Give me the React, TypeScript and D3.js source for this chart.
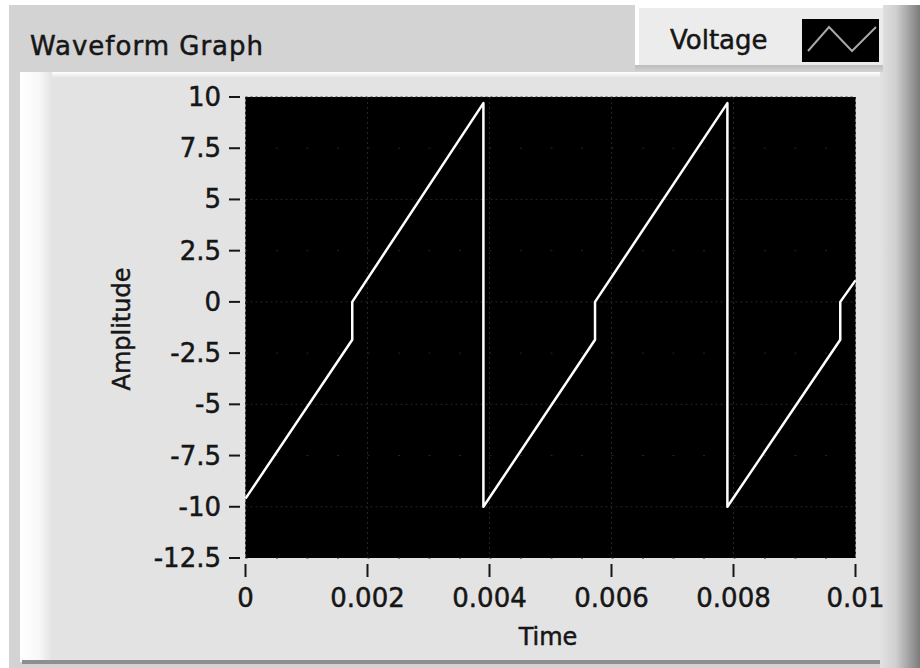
import React from 'react';
import * as d3 from 'd3';

// waveform samples (s, V)
const times = [0, 0.00175, 0.00175, 0.0039, 0.0039, 0.00573, 0.00573, 0.0079, 0.0079, 0.00975, 0.00975, 0.01];
const voltage = [-9.6, -1.85, 0, 9.7, -10, -1.85, 0, 9.7, -10, -1.85, 0, 1.05];

const yTicks = [10, 7.5, 5, 2.5, 0, -2.5, -5, -7.5, -10, -12.5];
const xTicks = [0, 0.002, 0.004, 0.006, 0.008, 0.01];
const xTickLabels = ['0', '0.002', '0.004', '0.006', '0.008', '0.01'];

const W = 920;
const H = 668;
const plot = { left: 245.5, right: 855.5, top: 97, bottom: 558 };
const font = '"DejaVu Sans", Verdana, sans-serif';
const ink = '#161616';

const App = () => {
	const x = d3.scaleLinear().domain([0, 0.01]).range([plot.left, plot.right]);
	const y = d3.scaleLinear().domain([-12.5, 10]).range([plot.bottom, plot.top]);

	const pts = times.map((t, i) => [t, voltage[i]] as [number, number]);
	const line = d3
		.line<[number, number]>()
		.x(d => x(d[0]))
		.y(d => y(d[1]));

	// slight stroke to mimic the heavy bitmap font of the original
	const txt = { fontFamily: font, fontSize: 26, fill: ink, stroke: ink, strokeWidth: 0.5 };

	return (
		<div style={{ position: 'absolute', left: 0, top: 0 }}>
			<svg width={W} height={H} style={{ display: 'block' }}>
				<defs>
					<linearGradient id="leftBand" x1="0" x2="1" y1="0" y2="0">
						<stop offset="0" stopColor="#ffffff" />
						<stop offset="0.6" stopColor="#f8f8f8" />
						<stop offset="1" stopColor="#e3e3e3" />
					</linearGradient>
					<linearGradient id="rightShade" x1="0" x2="1" y1="0" y2="0">
						<stop offset="0" stopColor="#e2e2e2" />
						<stop offset="0.4" stopColor="#cfcfcf" />
						<stop offset="1" stopColor="#7c7c7c" />
					</linearGradient>
					<linearGradient id="topBand" x1="0" x2="0" y1="0" y2="1">
						<stop offset="0" stopColor="#ffffff" />
						<stop offset="1" stopColor="#e3e3e3" />
					</linearGradient>
					<linearGradient id="legendShadow" x1="0" x2="0" y1="0" y2="1">
						<stop offset="0" stopColor="#b8b8b8" />
						<stop offset="1" stopColor="#d3d3d3" />
					</linearGradient>
				</defs>

				{/* frame */}
				<rect x={0} y={0} width={W} height={H} fill="#ffffff" />
				<rect x={9} y={5} width={W - 9} height={H - 5} fill="#d3d3d3" />
				<rect x={20} y={72} width={870} height={590} fill="#e3e3e3" />
				<rect x={20} y={72} width={870} height={6} fill="url(#topBand)" />
				<rect x={20} y={72} width={32} height={590} fill="url(#leftBand)" />
				<rect x={22} y={660} width={870} height={4} fill="#8e8e8e" />
				<rect x={880} y={5} width={40} height={H - 5} fill="url(#rightShade)" />

				{/* legend */}
				<rect x={635} y={64} width={248} height={8} fill="url(#legendShadow)" />
				<rect x={635} y={5} width={248} height={60} fill="#ececec" />
				<rect x={635} y={5} width={248} height={3} fill="#ffffff" />
				<rect x={635} y={5} width={4} height={60} fill="#ffffff" />
				<text x={670} y={49} {...txt}>
					Voltage
				</text>
				<rect x={802} y={19} width={77} height={43} fill="#000000" />
				<polyline
					points="808,51 829,27 852,51 876,27"
					fill="none"
					stroke="#a8a8a8"
					strokeWidth={2}
				/>

				{/* title */}
				<text x={30} y={55} letterSpacing={1} {...txt}>
					Waveform Graph
				</text>

				{/* plot area */}
				<rect
					x={plot.left}
					y={plot.top}
					width={plot.right - plot.left}
					height={plot.bottom - plot.top}
					fill="#000000"
				/>
				<g stroke="#262626" strokeWidth={1}>
					{yTicks.map(t => (
						<line
							key={'gy' + t}
							x1={plot.left}
							x2={plot.right}
							y1={y(t)}
							y2={y(t)}
							strokeDasharray={t % 5 === 0 ? '2 3' : '2 28.5'}
						/>
					))}
					{xTicks.map(t => (
						<line
							key={'gx' + t}
							x1={x(t)}
							x2={x(t)}
							y1={plot.top}
							y2={plot.bottom}
							strokeDasharray="2 3"
						/>
					))}
				</g>
				<path d={line(pts) || ''} fill="none" stroke="#ffffff" strokeWidth={2.5} strokeLinejoin="round" />

				{/* y axis */}
				{yTicks.map(t => (
					<g key={'y' + t}>
						<line x1={229} x2={240} y1={y(t)} y2={y(t)} stroke={ink} strokeWidth={2} />
						<text x={221} y={y(t) + 9} textAnchor="end" {...txt}>
							{String(t)}
						</text>
					</g>
				))}

				{/* x axis */}
				{xTicks.map((t, i) => (
					<g key={'x' + t}>
						<line x1={x(t)} x2={x(t)} y1={564} y2={577} stroke={ink} strokeWidth={2} />
						<text x={x(t)} y={607} textAnchor="middle" {...txt}>
							{xTickLabels[i]}
						</text>
					</g>
				))}

				<text x={548} y={645} textAnchor="middle" {...txt} fontSize={24}>
					Time
				</text>
				<text transform="translate(130,329) rotate(-90)" textAnchor="middle" {...txt} fontSize={24}>
					Amplitude
				</text>
			</svg>
		</div>
	);
};

export default App;
